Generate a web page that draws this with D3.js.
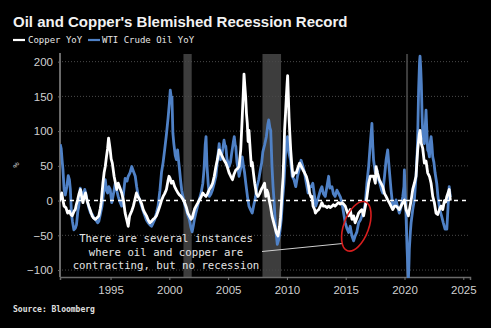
<!DOCTYPE html>
<html>
<head>
<meta charset="utf-8">
<script src="https://cdn.jsdelivr.net/npm/d3@7"></script>
<style>
  html, body { margin: 0; padding: 0; background: #000; }
  svg { display: block; }
</style>
</head>
<body>
<svg id="chart" width="491" height="328"></svg>
<script>
// Copper YoY % change (decimal year, value)
const copperDates = [1990.65,1990.75,1990.85,1990.95,1991.05,1991.2,1991.35,1991.5,1991.62,1991.74,1991.9,1992.0,1992.1,1992.2,1992.32,1992.44,1992.55,1992.65,1992.75,1992.87,1993.0,1993.15,1993.3,1993.43,1993.55,1993.7,1993.85,1994.0,1994.12,1994.2,1994.35,1994.45,1994.55,1994.65,1994.75,1994.83,1994.9,1994.97,1995.05,1995.15,1995.3,1995.42,1995.53,1995.65,1995.8,1995.95,1996.1,1996.24,1996.38,1996.5,1996.62,1996.8,1996.94,1997.05,1997.2,1997.35,1997.5,1997.65,1997.78,1997.92,1998.06,1998.2,1998.34,1998.48,1998.62,1998.76,1998.9,1999.05,1999.19,1999.33,1999.47,1999.6,1999.75,1999.88,1999.97,2000.07,2000.17,2000.3,2000.45,2000.6,2000.73,2000.87,2001.0,2001.15,2001.3,2001.45,2001.57,2001.7,2001.85,2001.95,2002.05,2002.15,2002.27,2002.4,2002.55,2002.7,2002.84,2002.98,2003.12,2003.25,2003.4,2003.55,2003.68,2003.82,2003.96,2004.1,2004.24,2004.38,2004.52,2004.66,2004.8,2004.94,2005.08,2005.22,2005.37,2005.5,2005.65,2005.8,2005.93,2006.07,2006.2,2006.3,2006.35,2006.42,2006.49,2006.56,2006.63,2006.7,2006.77,2006.87,2006.97,2007.05,2007.15,2007.26,2007.4,2007.54,2007.68,2007.82,2007.95,2008.1,2008.2,2008.3,2008.39,2008.5,2008.6,2008.73,2008.85,2008.96,2009.1,2009.24,2009.38,2009.45,2009.52,2009.6,2009.67,2009.75,2009.8,2009.88,2009.95,2010.02,2010.06,2010.12,2010.18,2010.25,2010.32,2010.42,2010.52,2010.65,2010.8,2010.95,2011.08,2011.2,2011.37,2011.5,2011.65,2011.8,2011.93,2012.05,2012.13,2012.22,2012.36,2012.42,2012.55,2012.7,2012.85,2012.98,2013.1,2013.26,2013.4,2013.55,2013.7,2013.83,2013.95,2014.1,2014.25,2014.4,2014.55,2014.68,2014.82,2014.96,2015.1,2015.25,2015.38,2015.53,2015.67,2015.8,2015.95,2016.1,2016.25,2016.38,2016.52,2016.67,2016.8,2016.95,2017.09,2017.23,2017.37,2017.52,2017.58,2017.7,2017.86,2018.0,2018.15,2018.3,2018.43,2018.57,2018.71,2018.85,2019.0,2019.15,2019.28,2019.42,2019.56,2019.7,2019.85,2019.99,2020.13,2020.25,2020.33,2020.45,2020.56,2020.7,2020.84,2020.98,2021.12,2021.25,2021.32,2021.43,2021.55,2021.69,2021.83,2021.97,2022.12,2022.26,2022.4,2022.54,2022.68,2022.82,2022.97,2023.1,2023.25,2023.4,2023.5,2023.6,2023.7,2023.8,2023.9];
const copperYoY = [-1,5,11,0,-8,-10,-18,-15,-20,-22,-15,-13,-5,1,10,16,5,-3,5,11,0,-8,-15,-22,-25,-27,-25,-22,-12,-3,25,40,49,63,75,90,82,73,60,54,35,25,16,25,18,11,0,-18,-28,-37,-22,-15,-8,0,11,5,1,-5,-13,-18,-22,-28,-32,-30,-27,-25,-22,-15,-8,0,6,10,16,28,35,32,25,28,20,15,11,8,6,2,-3,-10,-18,-22,-27,-25,-18,-12,-8,-4,1,5,11,8,6,10,16,20,25,35,49,60,73,68,63,58,54,48,40,35,30,38,44,46,49,73,120,160,182,165,149,125,111,85,101,75,50,55,40,25,10,6,10,16,20,25,6,15,11,0,-8,-22,-30,-37,-46,-51,-37,-25,-8,15,35,70,101,125,149,170,180,150,120,95,73,50,35,40,40,48,54,50,44,40,35,25,11,5,6,-8,-13,-18,-15,-13,-8,-3,-8,-8,-10,-8,-10,-8,-6,-8,-5,-3,-5,-3,-5,-8,-15,-22,-13,-27,-22,-32,-25,-18,-15,-13,-22,-8,5,25,35,35,35,25,49,40,30,25,20,10,6,1,-3,-8,-13,-8,-8,-10,-13,-8,-3,1,-13,-18,-22,-10,0,16,25,35,73,95,101,82,75,54,57,40,35,25,6,-3,-18,-20,-13,-8,-13,0,-2,6,11,16,0];

// WTI crude oil YoY % change (decimal year, value)
const oilDates = [1990.72,1990.8,1990.88,1990.95,1991.05,1991.15,1991.28,1991.4,1991.5,1991.58,1991.68,1991.76,1991.88,1992.0,1992.1,1992.22,1992.3,1992.42,1992.55,1992.67,1992.8,1992.9,1993.0,1993.15,1993.3,1993.45,1993.57,1993.75,1993.9,1994.0,1994.15,1994.27,1994.4,1994.55,1994.65,1994.75,1994.85,1994.97,1995.1,1995.25,1995.4,1995.52,1995.65,1995.8,1995.95,1996.1,1996.24,1996.4,1996.5,1996.65,1996.8,1996.95,1997.1,1997.22,1997.36,1997.5,1997.64,1997.78,1997.92,1998.05,1998.2,1998.35,1998.48,1998.6,1998.76,1998.9,1999.04,1999.2,1999.33,1999.47,1999.6,1999.75,1999.9,2000.0,2000.08,2000.15,2000.22,2000.3,2000.38,2000.5,2000.6,2000.7,2000.8,2000.87,2000.95,2001.05,2001.15,2001.3,2001.43,2001.55,2001.7,2001.82,2001.94,2002.05,2002.13,2002.25,2002.4,2002.55,2002.7,2002.85,2002.95,2003.05,2003.12,2003.2,2003.3,2003.4,2003.55,2003.68,2003.82,2003.96,2004.1,2004.24,2004.35,2004.45,2004.55,2004.65,2004.72,2004.8,2004.9,2005.0,2005.08,2005.2,2005.3,2005.45,2005.52,2005.6,2005.65,2005.75,2005.85,2005.93,2006.05,2006.2,2006.3,2006.4,2006.5,2006.65,2006.77,2006.9,2007.05,2007.2,2007.33,2007.45,2007.6,2007.75,2007.85,2007.95,2008.1,2008.25,2008.38,2008.45,2008.55,2008.62,2008.73,2008.82,2008.9,2009.0,2009.1,2009.18,2009.3,2009.4,2009.52,2009.62,2009.75,2009.85,2009.95,2010.05,2010.15,2010.3,2010.45,2010.6,2010.75,2010.9,2011.05,2011.2,2011.35,2011.5,2011.65,2011.8,2011.95,2012.07,2012.2,2012.36,2012.45,2012.6,2012.7,2012.85,2012.98,2013.1,2013.26,2013.4,2013.55,2013.65,2013.83,2013.95,2014.1,2014.25,2014.4,2014.55,2014.68,2014.82,2014.96,2015.1,2015.25,2015.38,2015.53,2015.67,2015.8,2015.95,2016.1,2016.25,2016.38,2016.55,2016.67,2016.8,2016.95,2017.09,2017.23,2017.3,2017.37,2017.52,2017.65,2017.8,2017.9,2018.05,2018.15,2018.3,2018.43,2018.57,2018.71,2018.85,2019.0,2019.15,2019.28,2019.42,2019.56,2019.7,2019.85,2019.95,2019.99,2020.06,2020.13,2020.22,2020.3,2020.33,2020.38,2020.41,2020.5,2020.56,2020.7,2020.84,2020.98,2021.08,2021.12,2021.2,2021.28,2021.32,2021.38,2021.43,2021.5,2021.55,2021.62,2021.69,2021.76,2021.83,2021.9,2021.97,2022.05,2022.12,2022.2,2022.26,2022.33,2022.4,2022.5,2022.6,2022.74,2022.85,2023.0,2023.15,2023.3,2023.45,2023.6,2023.7,2023.8,2023.9];
const oilYoY = [81,75,58,45,16,8,20,36,30,16,-20,-30,-42,-40,-35,-15,-8,18,10,6,16,10,1,-10,-18,-20,-25,-28,-32,-30,-18,-8,10,30,15,11,20,16,-3,10,25,15,6,-2,-8,10,32,28,35,40,49,42,35,20,6,0,-8,-15,-22,-28,-32,-35,-37,-33,-27,-18,-8,15,40,55,73,95,120,140,159,150,149,97,82,65,59,73,55,44,30,15,6,-5,-13,-20,-27,-38,-45,-35,-27,-18,-8,2,11,25,45,80,92,50,25,6,10,16,25,35,60,82,59,65,75,87,80,78,60,54,49,55,68,85,92,80,78,55,45,35,45,63,50,40,25,5,-8,-13,-18,-5,5,20,30,45,54,70,80,92,110,116,105,101,49,20,1,-30,-50,-63,-56,-45,-27,0,25,60,85,92,70,59,35,30,20,35,45,58,50,40,25,11,20,20,25,5,-8,0,6,15,20,10,6,20,35,18,20,10,6,15,10,5,-3,-18,-32,-40,-46,-37,-51,-58,-51,-45,-32,-28,-22,-15,-3,25,49,82,111,80,58,40,44,30,25,15,11,35,58,73,44,16,-8,-5,1,-10,-18,-10,6,20,44,10,-22,-70,-105,-113,-90,-70,-45,-32,-13,1,35,70,92,159,200,208,190,168,120,97,88,82,105,130,100,73,70,63,85,92,80,63,55,40,25,5,-13,-22,-32,-41,-41,-10,20,5];

// US recessions (start, end)
const recessionStarts = [2001.2, 2007.92, 2020.13];
const recessionEnds = [2001.9, 2009.5, 2020.3];

const yTicks = [-100, -50, 0, 50, 100, 150, 200];
const xTicks = [1995, 2000, 2005, 2010, 2015, 2020, 2025];

const titleText = "Oil and Copper's Blemished Recession Record";
const seriesNames = ["Copper YoY", "WTI Crude Oil YoY"];
const noteLines = ["There are several instances", "where oil and copper are", "contracting, but no recession"];
const sourceText = "Source: Bloomberg";

const copperColor = "#ffffff";
const oilColor = "#4f81c6";

const svg = d3.select("#chart");
const W = 491, H = 328;
const plot = { left: 60, right: 470, top: 54, bottom: 277 };

const x = d3.scaleLinear().domain([1990.7, 2025.57]).range([plot.left, plot.right]);
const y = d3.scaleLinear().domain([-110, 211]).range([plot.bottom, plot.top]);

svg.append("rect").attr("width", W).attr("height", H).attr("fill", "#000");

// Title
svg.append("text")
  .attr("x", 13).attr("y", 27)
  .attr("font-family", "Liberation Sans, Arial, sans-serif")
  .attr("font-weight", "bold").attr("font-size", 15)
  .attr("fill", "#f2f2f2")
  .text(titleText);

// Legend
const legend = svg.append("g").attr("font-family", "DejaVu Sans Mono, monospace").attr("font-size", 9).attr("fill", "#e6e6e6");
legend.append("line").attr("x1", 13).attr("x2", 25).attr("y1", 40).attr("y2", 40).attr("stroke", copperColor).attr("stroke-width", 2.2);
legend.append("text").attr("x", 28).attr("y", 43).text(seriesNames[0]);
legend.append("line").attr("x1", 88).attr("x2", 100).attr("y1", 40).attr("y2", 40).attr("stroke", oilColor).attr("stroke-width", 2.2);
legend.append("text").attr("x", 102).attr("y", 43).text(seriesNames[1]);

// Recession shading
svg.append("g").selectAll("rect")
  .data(recessionStarts.map((s, i) => [s, recessionEnds[i]]))
  .join("rect")
  .attr("x", d => x(d[0]))
  .attr("width", d => Math.max(1.2, x(d[1]) - x(d[0])))
  .attr("y", plot.top)
  .attr("height", plot.bottom - plot.top)
  .attr("fill", "#3d3d3d");

// Gridlines
svg.append("g").selectAll("line")
  .data(yTicks.filter(v => v !== 0))
  .join("line")
  .attr("x1", plot.left + 2).attr("x2", plot.right)
  .attr("y1", d => y(d)).attr("y2", d => y(d))
  .attr("stroke", "#4a4a4a").attr("stroke-width", 1)
  .attr("stroke-dasharray", "1,2");

// Y axis
const yAxis = svg.append("g")
  .attr("transform", `translate(${plot.left},0)`)
  .call(d3.axisLeft(y).tickValues(yTicks).tickSize(2).tickPadding(5).tickFormat(d3.format("d")));
yAxis.select(".domain").remove();
yAxis.selectAll(".tick line").attr("stroke", "#666");
yAxis.selectAll("text").attr("fill", "#d0d0d0").attr("font-size", 11.5).attr("font-family", "Liberation Sans, Arial, sans-serif");

svg.append("line")
  .attr("x1", plot.left).attr("x2", plot.left)
  .attr("y1", plot.top - 1).attr("y2", plot.bottom)
  .attr("stroke", "#6a6a6a").attr("stroke-width", 2);

// X axis
const xAxis = svg.append("g")
  .attr("transform", `translate(0,${plot.bottom})`)
  .call(d3.axisBottom(x).tickValues(xTicks).tickSize(3).tickPadding(6).tickFormat(d3.format("d")));
xAxis.select(".domain").attr("stroke", "#6a6a6a").attr("stroke-width", 1.5);
xAxis.selectAll(".tick line").attr("stroke", "#777");
xAxis.selectAll("text").attr("fill", "#d0d0d0").attr("font-size", 11.5).attr("font-family", "Liberation Sans, Arial, sans-serif");

// "%" unit label
svg.append("text")
  .attr("transform", "translate(19,165) rotate(-90)")
  .attr("text-anchor", "middle")
  .attr("font-family", "DejaVu Sans Mono, monospace")
  .attr("font-size", 9).attr("fill", "#bbbbbb")
  .text("%");

// Series lines
svg.append("defs").append("clipPath").attr("id", "plotClip")
  .append("rect").attr("x", plot.left).attr("y", plot.top - 2)
  .attr("width", plot.right - plot.left).attr("height", plot.bottom - plot.top + 3);

const line = d3.line().x(d => x(d[0])).y(d => y(d[1]));
const lines = svg.append("g").attr("clip-path", "url(#plotClip)");

lines.append("path")
  .datum(oilDates.map((d, i) => [d, oilYoY[i]]))
  .attr("d", line).attr("fill", "none")
  .attr("stroke", oilColor).attr("stroke-width", 2.8).attr("stroke-linejoin", "round");

lines.append("path")
  .datum(copperDates.map((d, i) => [d, copperYoY[i]]))
  .attr("d", line).attr("fill", "none")
  .attr("stroke", copperColor).attr("stroke-width", 2.8).attr("stroke-linejoin", "round");

// Zero reference line
svg.append("line")
  .attr("x1", plot.left + 2).attr("x2", plot.right)
  .attr("y1", y(0)).attr("y2", y(0))
  .attr("stroke", "#ffffff").attr("stroke-width", 1.5)
  .attr("stroke-dasharray", "4,4");

// Annotation
const note = svg.append("text")
  .attr("text-anchor", "middle")
  .attr("font-family", "DejaVu Sans Mono, monospace")
  .attr("font-size", 10.7).attr("fill", "#e4e4e4");
noteLines.forEach((t, i) => {
  note.append("tspan").attr("x", 166).attr("y", 242 + i * 13.5).text(t);
});

svg.append("line")
  .attr("x1", 262).attr("y1", 251.5)
  .attr("x2", x(2014.75)).attr("y2", 243.5)
  .attr("stroke", "#cfcfcf").attr("stroke-width", 1);

svg.append("ellipse")
  .attr("cx", x(2015.9)).attr("cy", y(-37))
  .attr("rx", 12.5).attr("ry", 26)
  .attr("transform", `rotate(20 ${x(2015.9)} ${y(-37)})`)
  .attr("fill", "none").attr("stroke", "#d81e1e").attr("stroke-width", 1.6);

// Source
svg.append("text")
  .attr("x", 13).attr("y", 312)
  .attr("font-family", "DejaVu Sans Mono, monospace")
  .attr("font-weight", "bold").attr("font-size", 8)
  .attr("fill", "#e0e0e0")
  .text(sourceText);
</script>
</body>
</html>
